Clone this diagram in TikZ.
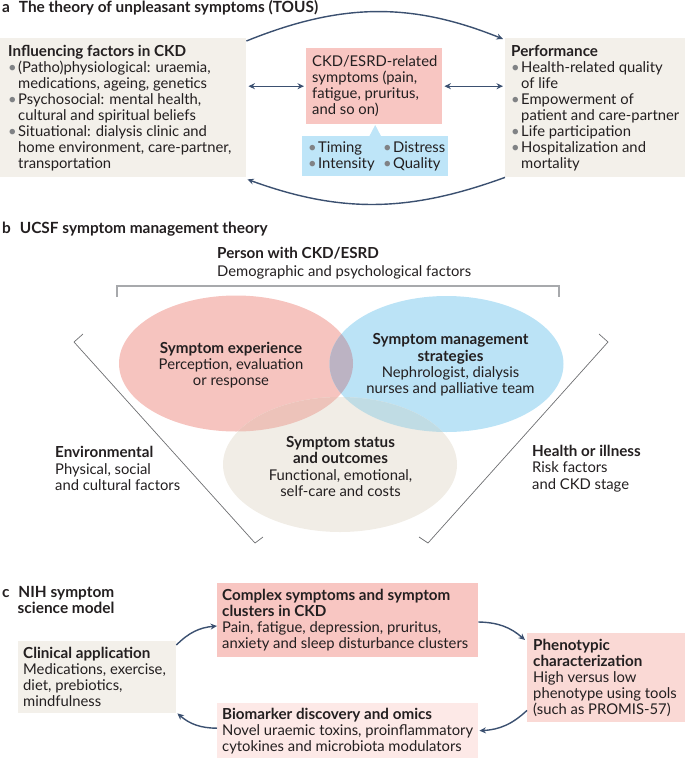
\documentclass[tikz,border=0pt]{standalone}
\usepackage{fontspec}
\setmainfont{Lato}
\usetikzlibrary{arrows.meta}
\definecolor{txt}{HTML}{231F20}
\definecolor{beigeBox}{HTML}{F3F0EA}
\definecolor{pinkBox}{HTML}{F8C6C2}
\definecolor{pinkLight}{HTML}{FAD9D5}
\definecolor{pinkPale}{HTML}{FDE9E7}
\definecolor{blueBox}{HTML}{BEE5F8}
\definecolor{navy}{HTML}{3B5070}
\definecolor{bulgray}{HTML}{808285}
\definecolor{brgray}{HTML}{A7A9AC}
\definecolor{vgray}{HTML}{6D6E71}
\definecolor{pinkE}{HTML}{F6C4BF}
\definecolor{blueE}{HTML}{BBE3F6}
\definecolor{beigeE}{HTML}{F1EDE6}
\definecolor{pinkblue}{HTML}{BCB3C3}
\definecolor{pinkbeige}{HTML}{EDC3BA}
\definecolor{bluebeige}{HTML}{C0DCE4}
\definecolor{allthree}{HTML}{B8AEB8}
\newcommand{\bul}{\makebox[10pt][l]{\textcolor{bulgray}{•}}}
\newcommand{\ind}{\hspace*{10pt}}
\newcommand{\hd}[1]{{\bfseries\fontsize{15.2}{16}\selectfont #1}}
\tikzset{
  boxn/.style={rectangle, inner sep=0pt, anchor=north west},
  txtb/.style={font=\fontsize{14.8}{16}\selectfont, text=txt, inner sep=0pt, anchor=west, align=left},
  ttl/.style={font=\fontsize{15.4}{16}\selectfont\bfseries, text=txt, inner sep=0pt},
  arr/.style={navy, line width=1.4pt, -{Stealth[length=6.5pt,width=6pt]}},
  biarr/.style={navy, line width=1.4pt, {Stealth[length=6.5pt,width=6pt]}-{Stealth[length=6.5pt,width=6pt]}, shorten <=2pt, shorten >=2pt},
  brline/.style={brgray, line width=1.2pt},
  vline/.style={vgray, line width=0.7pt},
  lbl/.style={font=\fontsize{14.8}{16.3}\selectfont, text=txt, inner sep=0pt}
}
\begin{document}
\begin{tikzpicture}[x=1pt,y=1pt]
\useasboundingbox (0,0) rectangle (685,-760);
% ---------------- panel a
\node[ttl, anchor=west] (ta) at (2,-8) {a\,\, The theory of unpleasant symptoms (TOUS)};
\node[boxn, fill=beigeBox, minimum width=246pt, minimum height=139pt] (inf) at (0,-38) {};
\node[txtb] (inft) at ([xshift=8pt,yshift=-0.5pt]inf.west)
 {\hd{Influencing factors in CKD}\\
  \bul(Patho)physiological: uraemia,\\
  \ind medications, ageing, genetics\\
  \bul Psychosocial: mental health,\\
  \ind cultural and spiritual beliefs\\
  \bul Situational: dialysis clinic and\\
  \ind home environment, care-partner,\\
  \ind transportation};
\node[boxn, fill=beigeBox, minimum width=180pt, minimum height=139pt] (perf) at (505,-38) {};
\node[txtb] (perft) at ([xshift=6pt,yshift=-0.5pt]perf.west)
 {\hd{Performance}\\
  \bul Health-related quality\\
  \ind of life\\
  \bul Empowerment of\\
  \ind patient and care-partner\\
  \bul Life participation\\
  \bul Hospitalization and\\
  \ind mortality};
\node[boxn, fill=pinkBox, minimum width=136pt, minimum height=76pt] (sym) at (306,-48) {};
\node[txtb] (symt) at ([xshift=6pt]sym.west)
 {CKD/ESRD-related\\symptoms (pain,\\fatigue, pruritus,\\and so on)};
\node[boxn, fill=blueBox, minimum width=146pt, minimum height=40pt] (dims) at (302,-136) {};
\fill[blueBox] ([xshift=-6pt,yshift=-0.5pt]dims.north) -- ([yshift=11pt]dims.north) -- ([xshift=6pt,yshift=-0.5pt]dims.north) -- cycle;
\node[txtb] (dimst) at ([xshift=6pt]dims.west)
 {\makebox[75pt][l]{\bul Timing}\bul Distress\\\makebox[75pt][l]{\bul Intensity}\bul Quality};
\draw[biarr] (inf.east |- sym.west) -- (sym.west);
\draw[biarr] (sym.east) -- (perf.west |- sym.east);
\draw[arr] ([yshift=-3pt]inf.north east) to[out=22,in=158] ([xshift=-2pt,yshift=-1pt]perf.north west);
\draw[arr] (perf.south west) to[out=-160,in=-20] ([xshift=1pt,yshift=-2pt]inf.south east);
% ---------------- panel b
\node[ttl, anchor=west] (tb) at (2,-229) {b\,\, UCSF symptom management theory};
\node[lbl, anchor=west, align=left, font=\fontsize{14.8}{17.7}\selectfont] (person) at (217,-263)
 {\hd{Person with CKD/ESRD}\\Demographic and psychological factors};
\draw[brline] (117,-297) -- (117,-286) -- (559,-286) -- (559,-297);
\draw[vline] (83,-334) -- (74,-342) -- (255,-543) -- (263,-537);
\draw[vline] (599,-334) -- (608,-342) -- (428,-543) -- (419,-537);
\fill[pinkE] (236,-363.5) ellipse[x radius=117pt, y radius=68pt];
\fill[blueE] (446.5,-364) ellipse[x radius=117pt, y radius=68pt];
\fill[beigeE] (340,-464.5) ellipse[x radius=117pt, y radius=67.5pt];
\begin{scope}
 \clip (236,-363.5) ellipse[x radius=117pt, y radius=68pt];
 \fill[pinkblue] (446.5,-364) ellipse[x radius=117pt, y radius=68pt];
 \fill[pinkbeige] (340,-464.5) ellipse[x radius=117pt, y radius=67.5pt];
 \clip (446.5,-364) ellipse[x radius=117pt, y radius=68pt];
 \fill[allthree] (340,-464.5) ellipse[x radius=117pt, y radius=67.5pt];
\end{scope}
\begin{scope}
 \clip (446.5,-364) ellipse[x radius=117pt, y radius=68pt];
 \clip (340,-464.5) ellipse[x radius=117pt, y radius=67.5pt];
 \fill[bluebeige] (236,-363.5) rectangle (685,-560);
 \clip (236,-363.5) ellipse[x radius=117pt, y radius=68pt];
 \fill[allthree] (236,-363.5) rectangle (685,-560);
\end{scope}
\node[lbl, align=center] (exp) at (231,-365) {\hd{Symptom experience}\\Perception, evaluation\\or response};
\node[lbl, align=center] (mgmt) at (450.5,-365) {\hd{Symptom management}\\\hd{strategies}\\Nephrologist, dialysis\\nurses and palliative team};
\node[lbl, align=center] (stat) at (340.5,-466.5) {\hd{Symptom status}\\\hd{and outcomes}\\Functional, emotional,\\self-care and costs};
\node[lbl, align=left, anchor=west] (env) at (55,-468.5) {\hd{Environmental}\\Physical, social\\and cultural factors};
\node[lbl, align=left, anchor=west] (hlth) at (532,-468.5) {\hd{Health or illness}\\Risk factors\\and CKD stage};
% ---------------- panel c
\node[ttl, anchor=west, align=left] (tc) at (2,-600) {c\,\, NIH symptom\\\hspace*{15.5pt}science model};
\node[boxn, fill=beigeBox, minimum width=158pt, minimum height=72pt] (clin) at (18,-641) {};
\node[txtb] (clint) at ([xshift=5pt]clin.west)
 {\hd{Clinical application}\\Medications, exercise,\\diet, prebiotics,\\mindfulness};
\node[boxn, fill=pinkBox, minimum width=261pt, minimum height=74pt] (cplx) at (217,-583) {};
\node[txtb] (cplxt) at ([xshift=5pt]cplx.west)
 {\hd{Complex symptoms and symptom}\\\hd{clusters in CKD}\\Pain, fatigue, depression, pruritus,\\anxiety and sleep disturbance clusters};
\node[boxn, fill=pinkLight, minimum width=158pt, minimum height=89pt] (phen) at (527,-633) {};
\node[txtb] (phent) at ([xshift=6pt]phen.west)
 {\hd{Phenotypic}\\\hd{characterization}\\High versus low\\phenotype using tools\\(such as PROMIS-57)};
\node[boxn, fill=pinkPale, minimum width=261pt, minimum height=55pt] (bio) at (217,-703) {};
\node[txtb] (biot) at ([xshift=5pt]bio.west)
 {\hd{Biomarker discovery and omics}\\Novel uraemic toxins, proinflammatory\\cytokines and microbiota modulators};
\draw[arr] ([yshift=-4pt]clin.north east) to[bend left=20] ([yshift=-43pt]cplx.north west);
\draw[arr] ([yshift=-39pt]cplx.north east) to[bend left=20] ([xshift=-2pt,yshift=-7pt]phen.north west);
\draw[arr] ([yshift=12pt]phen.south west) to[bend left=20] ([xshift=1pt]bio.east);
\draw[arr] ([yshift=2.5pt]bio.west) to[bend left=20] ([xshift=1pt]clin.south east);
\end{tikzpicture}
\end{document}
